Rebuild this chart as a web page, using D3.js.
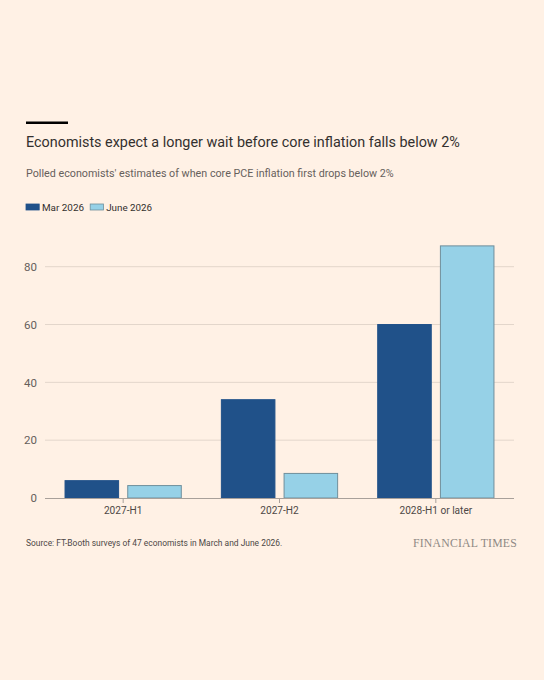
<!DOCTYPE html>
<html><head><meta charset="utf-8">
<script src="https://cdn.jsdelivr.net/npm/d3@7"></script>
<style>
html,body{margin:0;padding:0;background:#fff1e5;}
svg{display:block;font-family:Roboto,"Noto Sans",sans-serif;}
</style></head>
<body>
<svg id="c" width="544" height="680"></svg>
<script>
const categories = ["2027-H1", "2027-H2", "2028-H1 or later"];
const seriesNames = ["Mar 2026", "June 2026"];
const marValues = [6, 34, 60];
const juneValues = [4.3, 8.5, 87.2];
const yTicks = [0, 20, 40, 60, 80];

const colors = {"Mar 2026": "#205189", "June 2026": "#96d1e7"};
const strokes = {"Mar 2026": "#205189", "June 2026": "#6f8f9c"};

const data = categories.map((c, i) => ({cat: c, values: [
  {series: seriesNames[0], value: marValues[i]},
  {series: seriesNames[1], value: juneValues[i]}
]}));

const svg = d3.select("#c");

function fit(sel, target) {
  const node = sel.node();
  let fs = parseFloat(sel.attr("font-size"));
  const w = node.getComputedTextLength();
  sel.attr("font-size", (fs * target / w).toFixed(2));
}

// top rule
svg.append("rect").attr("x", 26).attr("y", 121.5).attr("width", 42).attr("height", 2.5).attr("fill", "#000");

const title = svg.append("text").attr("x", 26).attr("y", 147).attr("font-size", 16)
  .attr("fill", "#33302e").text("Economists expect a longer wait before core inflation falls below 2%");
fit(title, 434);

const sub = svg.append("text").attr("x", 26).attr("y", 176.5).attr("font-size", 12)
  .attr("fill", "#66605c").text("Polled economists' estimates of when core PCE inflation first drops below 2%");
fit(sub, 368);

// legend
const leg = svg.append("g");
const legX = [26, 90.2];
const legW = [42, 46];
seriesNames.forEach((s, i) => {
  leg.append("rect").attr("x", legX[i]).attr("y", 204).attr("width", 13.2).attr("height", 6)
    .attr("fill", colors[s]).attr("stroke", strokes[s]).attr("stroke-width", 0.8);
  const t = leg.append("text").attr("x", legX[i] + 16).attr("y", 210.5).attr("font-size", 10.5)
    .attr("fill", "#33302e").text(s);
  fit(t, legW[i]);
});

const x0 = d3.scaleBand().domain(categories).range([45, 514]).paddingInner(0.25).paddingOuter(0.125);
const x1 = d3.scaleBand().domain(seriesNames).range([0, x0.bandwidth()]).paddingInner(0.13).paddingOuter(0);
const y = d3.scaleLinear().domain([0, 80]).range([498, 266.7]);

// grid
const grid = svg.append("g");
grid.selectAll("line").data(yTicks.filter(d => d > 0)).join("line")
  .attr("x1", 45).attr("x2", 514).attr("y1", d => y(d)).attr("y2", d => y(d))
  .attr("stroke", "#e3d6cb").attr("stroke-width", 1);

const yAxis = svg.append("g").attr("transform", "translate(45,0)")
  .call(d3.axisLeft(y).tickValues(yTicks).tickSize(0).tickPadding(8));
yAxis.select(".domain").remove();
yAxis.selectAll("text").attr("font-size", 11.5).attr("fill", "#66605c").attr("font-family", "Roboto, sans-serif");

// bars
const groups = svg.append("g").selectAll("g").data(data).join("g")
  .attr("transform", d => `translate(${x0(d.cat)},0)`);
groups.selectAll("rect").data(d => d.values).join("rect")
  .attr("x", d => x1(d.series) + 0.5)
  .attr("width", x1.bandwidth() - 1)
  .attr("y", d => y(d.value))
  .attr("height", d => y(0) - y(d.value))
  .attr("fill", d => colors[d.series])
  .attr("stroke", d => strokes[d.series])
  .attr("stroke-width", 1);

// x axis
const xAxis = svg.append("g").attr("transform", `translate(0,${y(0)})`)
  .call(d3.axisBottom(x0).tickSize(5).tickSizeOuter(0).tickPadding(4));
xAxis.select(".domain").attr("stroke", "#a8a09a").attr("d", "M45,0.5H514");
xAxis.selectAll(".tick line").attr("stroke", "#a8a09a");
xAxis.selectAll("text").attr("font-size", 11.5).attr("fill", "#4d4845").attr("font-family", "Roboto, sans-serif");
const lastLbl = xAxis.selectAll(".tick text").filter(d => d === categories[2]);
const ratio = 73 / lastLbl.node().getComputedTextLength();
xAxis.selectAll(".tick text").attr("font-size", (11.5 * ratio).toFixed(2));

// source
const src = svg.append("text").attr("x", 26).attr("y", 546).attr("font-size", 9.5)
  .attr("fill", "#4d4845").text("Source: FT-Booth surveys of 47 economists in March and June 2026.");
fit(src, 257);

const ft = svg.append("text").attr("x", 517).attr("y", 546.5).attr("text-anchor", "end")
  .attr("font-size", 12).attr("font-family", "Liberation Serif, DejaVu Serif, serif")
  .attr("fill", "#8f8984").attr("letter-spacing", "0.2").text("FINANCIAL TIMES");
fit(ft, 104);
</script>
</body></html>
